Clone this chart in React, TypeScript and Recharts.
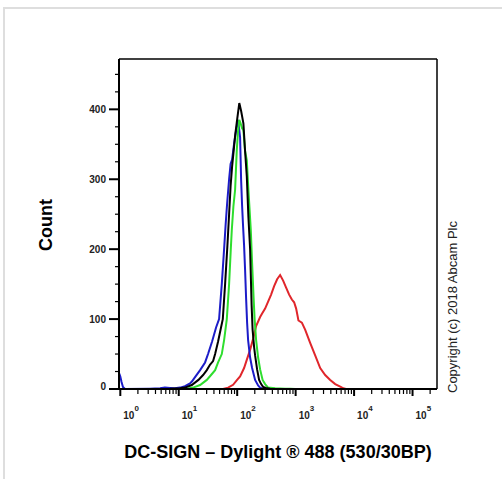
import React from 'react';
import { LineChart, Line, XAxis, YAxis, ReferenceLine } from 'recharts';

const FONT = "'Liberation Sans', Arial, sans-serif";

// Fluorescence (DC-SIGN – Dylight 488) values and event counts per histogram
const blueFluor = [0.96, 1.0, 1.05, 1.11, 1.2, 3.2, 4.8, 5.8, 7.1, 8.6, 10.5, 12.8, 15.6, 16.9, 19.0, 23.2, 28.2, 31.7, 37.2, 43.5, 49.0, 54.5, 59.7, 63.4, 67.2, 72.7, 77.1, 81.8, 88.5, 95.8, 103.6, 112.1, 116.6, 121.3, 126.2, 131.2, 136.5, 142.0, 147.7, 153.7, 166.3, 179.9, 202.5, 228.0, 246.7, 277.6, 338];
const blueCount = [22, 18, 10, 3, 0, 0.5, 1, 2, 1.5, 1, 2, 4, 8, 11, 17, 27, 38, 50, 68, 88, 100, 150, 200, 235, 265, 300, 322, 328, 351, 370, 385, 360, 300, 262, 232, 205, 170, 130, 95, 70, 45, 30, 13, 5, 2, 0.5, 0];

const blackFluor = [2.18, 7.1, 10.5, 12.8, 16.7, 21.7, 26.1, 30.2, 34.4, 38.7, 41.9, 47.1, 52.0, 56.7, 62.1, 68.0, 72.7, 77.1, 81.8, 86.8, 92.1, 99.6, 108.6, 116.6, 127.7, 136.5, 146.0, 155.5, 166.3, 176.5, 183.4, 194.7, 202.5, 219, 237, 256.6, 277.6, 312.6, 365.7, 542.8];
const blackCount = [0, 0.5, 1, 2, 5.7, 13, 20, 27, 35, 40, 50, 68, 85, 100, 150, 205, 250, 290, 318, 340, 362, 385, 409, 398, 380, 340, 304, 246, 200, 120, 85, 60, 48, 28, 13, 7, 3, 1.5, 0.5, 0];

const greenFluor = [3.2, 13.7, 17.6, 23.2, 30.2, 35.7, 41.9, 47.1, 54.5, 59.7, 66.4, 72.7, 77.7, 80.8, 86.1, 92.1, 98.4, 103.6, 108.6, 114.3, 121.3, 127.7, 136.5, 146.0, 155.5, 171.0, 179.9, 190.9, 198.6, 210.7, 228.0, 246.7, 272.2, 300.3, 338, 445.6, 660.4, 805, 980];
const greenCount = [0, 0.5, 2, 5.7, 13, 20, 27, 38, 50, 70, 100, 150, 200, 227, 261, 285, 342, 370, 385, 380, 373, 370, 340, 327, 285, 227, 180, 130, 100, 70, 45, 28, 13, 7, 2, 1, 0.5, 0.5, 0];

const redFluor = [57.4, 69.9, 85.1, 99.6, 112.1, 131.2, 147.7, 166.3, 187.2, 210.7, 246.7, 266.9, 300.3, 338, 380.5, 428.6, 482.2, 542.8, 611, 687, 774, 861, 942, 1020, 1117, 1277, 1453, 1771, 2158, 2630, 3201, 3900, 4754, 5794, 6560, 7244];
const redCount = [0, 2, 6, 13, 18, 30, 43, 56, 72, 90, 103, 108, 115, 125, 135, 147, 157, 163, 155, 145, 135, 128, 124, 115, 98, 95, 85, 66, 48, 30, 20, 13, 7, 3.5, 1, 0];

const xMin = 0.95;
const xMax = 262144;
const yMax = 472;
const xDecades = [1, 10, 100, 1000, 10000, 100000];
const xTicks = xDecades.flatMap((d) => [1, 2, 3, 4, 5, 6, 7, 8, 9].map((m) => m * d)).filter((v) => v <= xMax);
const yTicks = [0, 25, 50, 75, 100, 125, 150, 175, 200, 225, 250, 275, 300, 325, 350, 375, 400, 425, 450];
const yLabelled = [0, 100, 200, 300, 400];

const toData = (xs: number[], ys: number[]) => xs.map((v, i) => ({ fluor: v, count: ys[i] }));
const blueData = toData(blueFluor, blueCount);
const blackData = toData(blackFluor, blackCount);
const greenData = toData(greenFluor, greenCount);
const redData = toData(redFluor, redCount);

const XTick = (props: any) => {
  const { x, y, payload } = props;
  const v = payload.value;
  const lg = Math.log10(v);
  const exp = Math.round(lg);
  const major = Math.abs(lg - exp) < 1e-6;
  return (
    <g>
      <line x1={x} x2={x} y1={y} y2={y + (major ? 7 : 5)} stroke="#000" strokeWidth={major ? 2 : 1.2} />
      {major && (
        <text x={x + 3} y={y + 29.5} fontFamily={FONT} fontWeight="bold" fontSize={10} fill="#222">
          10
          <tspan dy={-8} fontSize={8}>{exp}</tspan>
        </text>
      )}
    </g>
  );
};

const YTick = (props: any) => {
  const { x, y, payload } = props;
  const v = payload.value;
  const major = yLabelled.includes(v);
  return (
    <g>
      <line x1={x - (major ? 10 : 4)} x2={x} y1={y} y2={y} stroke="#000" strokeWidth={major ? 2 : 1.2} />
      {major && (
        <text x={x - 13} y={v === 0 ? y - 3 : y} dy="0.35em" textAnchor="end" fontFamily={FONT} fontWeight="bold" fontSize={10} fill="#222">
          {v}
        </text>
      )}
    </g>
  );
};

const YTitle = (props: any) => {
  const vb = props.viewBox;
  const cx = vb.x + 52;
  const cy = vb.y + vb.height / 2 + 1;
  return (
    <text transform={`translate(${cx}, ${cy}) rotate(-90)`} textAnchor="middle" fontFamily={FONT} fontWeight="bold" fontSize={18} fill="#000">
      Count
    </text>
  );
};

const XTitle = (props: any) => {
  const vb = props.viewBox;
  return (
    <text x={vb.x + vb.width / 2} y={vb.y + 69} textAnchor="middle" fontFamily={FONT} fontWeight="bold" fontSize={18} fill="#000">
      DC-SIGN – Dylight ® 488 (530/30BP)
    </text>
  );
};

const Copyright = (props: any) => {
  const vb = props.viewBox;
  const bx = vb.x + 20;
  const by = vb.y + vb.height + 4;
  return (
    <text transform={`translate(${bx}, ${by}) rotate(-90)`} textAnchor="start" fontFamily={FONT} fontSize={13} fill="#222">
      Copyright (c) 2018 Abcam Plc
    </text>
  );
};

export default function App() {
  return (
    <div style={{ position: 'absolute', left: 0, top: 0, width: 502, height: 479, background: '#fff' }}>
      <div
        style={{
          position: 'absolute',
          left: 3,
          top: 7,
          width: 499,
          height: 472,
          borderTop: '2px solid #dedede',
          borderLeft: '2px solid #dedede',
          boxSizing: 'border-box',
        }}
      />
      <div style={{ position: 'absolute', left: 0, top: 0 }}>
        <LineChart width={502} height={479} margin={{ top: 59, right: 65, bottom: 0, left: 0 }}>
          <XAxis
            dataKey="fluor"
            type="number"
            scale="log"
            domain={[xMin, xMax]}
            allowDataOverflow
            ticks={xTicks}
            interval={0}
            height={90}
            tickSize={0}
            tickMargin={0}
            tickLine={false}
            tick={<XTick />}
            axisLine={{ stroke: '#000', strokeWidth: 2 }}
            label={<XTitle />}
          />
          <YAxis
            type="number"
            domain={[0, yMax]}
            allowDataOverflow
            ticks={yTicks}
            interval={0}
            width={119}
            tickSize={0}
            tickMargin={0}
            tickLine={false}
            tick={<YTick />}
            axisLine={{ stroke: '#000', strokeWidth: 2 }}
            label={<YTitle />}
          />
          <ReferenceLine y={yMax} stroke="#000" strokeWidth={1.5} />
          <ReferenceLine x={xMax} stroke="#000" strokeWidth={1.5} label={<Copyright />} />
          <Line data={redData} dataKey="count" type="linear" stroke="#e0262b" strokeWidth={2} dot={false} isAnimationActive={false} />
          <Line data={blueData} dataKey="count" type="linear" stroke="#1c1cc8" strokeWidth={2} dot={false} isAnimationActive={false} />
          <Line data={greenData} dataKey="count" type="linear" stroke="#2ede2e" strokeWidth={2} dot={false} isAnimationActive={false} />
          <Line data={blackData} dataKey="count" type="linear" stroke="#000" strokeWidth={2} dot={false} isAnimationActive={false} />
        </LineChart>
      </div>
    </div>
  );
}
